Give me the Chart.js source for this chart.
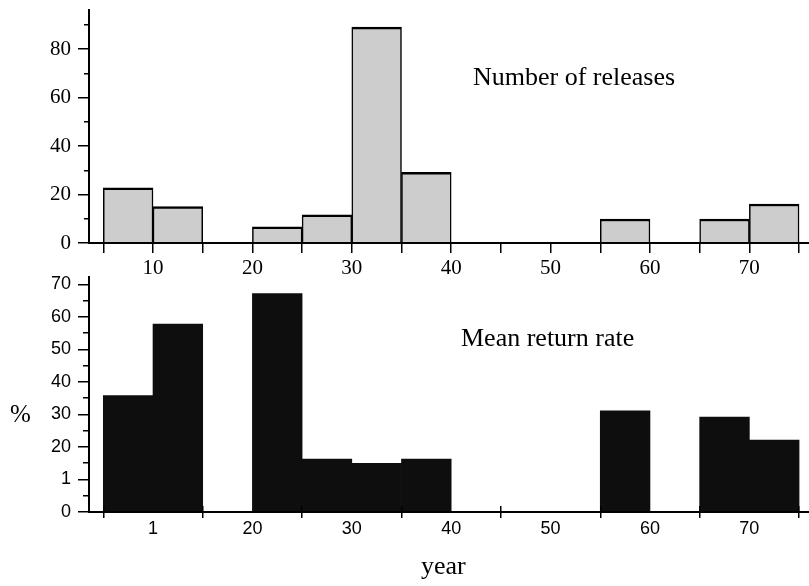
<!DOCTYPE html>
<html><head><meta charset="utf-8">
<script src="https://cdn.jsdelivr.net/npm/chart.js@4/dist/chart.umd.min.js"></script>
<style>
html,body{margin:0;padding:0;background:#fff;}
#wrap{position:relative;width:809px;height:586px;overflow:hidden;background:#fff;}
canvas{position:absolute;left:0;}
#c1{top:0}
#c2{top:250px}
.t{position:absolute;font-family:'Liberation Serif','Times New Roman',serif;color:#000;line-height:1;white-space:nowrap}
</style></head><body>
<div id="wrap">
<canvas id="c1" width="809" height="300"></canvas>
<canvas id="c2" width="809" height="336"></canvas>
<div class="t" style="left:473px;top:64px;font-size:26px">Number of releases</div>
<div class="t" style="left:461px;top:325px;font-size:26px">Mean return rate</div>
<div class="t" style="left:10px;top:401px;font-size:25px">%</div>
<div class="t" style="left:421px;top:553px;font-size:26px">year</div>
</div>
<script>
// bins of 5 years (centres)
const binCenters = [7.5, 12.5, 17.5, 22.5, 27.5, 32.5, 37.5, 42.5, 47.5, 52.5, 57.5, 62.5, 67.5, 72.5];
const releases   = [22.8, 15.0, 0, 6.7, 11.6, 89.1, 29.2, 0, 0, 0, 9.9, 0, 9.9, 16.1];
const returnRate = [35.8, 57.8, 0, 67.2, 16.3, 15.0, 16.3, 0, 0, 0, 31.1, 0, 29.2, 22.1];

const topXTicks  = [5, 10, 15, 20, 25, 30, 35, 40, 45, 50, 55, 60, 65, 70, 75];
const topXLabels = ['', '10', '', '20', '', '30', '', '40', '', '50', '', '60', '', '70', ''];
const topYMajor  = [0, 20, 40, 60, 80];
const topYLabels = ['0', '20', '40', '60', '80'];
const topYMinor  = [10, 30, 50, 70, 90];

const botXTicks     = [5, 15, 25, 35, 45, 55, 65, 75];
const botXLabelVals = [10, 20, 30, 40, 50, 60, 70];
const botXLabels    = ['1', '20', '30', '40', '50', '60', '70'];
const botYMajor     = [0, 10, 20, 30, 40, 50, 60, 70];
const botYLabels    = ['0', '1', '20', '30', '40', '50', '60', '70'];
const botYMinor     = [5, 15, 25, 35, 45, 55, 65];

const X_MIN = 3.56, X_MAX = 76.0;
const TOP_Y_MAX = 96.2, BOT_Y_MAX = 72.3;

function fixedTicks(vals) { return s => { s.ticks = vals.map(v => ({value: v})); }; }
function fixSize(w, h) {
  return s => {
    if (w !== null) s.width = w;
    if (h !== null) s.height = h;
    s.paddingTop = 0; s.paddingBottom = 0; s.paddingLeft = 0; s.paddingRight = 0;
  };
}
const common = {
  responsive: false, animation: false, devicePixelRatio: 1, events: [],
  plugins: {legend: {display: false}, tooltip: {enabled: false}, title: {display: false}}
};
const serif = 'Liberation Serif', sans = 'Liberation Sans';

new Chart(document.getElementById('c1'), {
  type: 'bar',
  data: {datasets: [{
    data: binCenters.map((x, i) => ({x: x, y: releases[i]})),
    backgroundColor: '#cdcdcd', borderColor: '#000',
    borderWidth: {top: 2.5, left: 1.5, right: 1.5, bottom: 0},
    borderSkipped: 'start', barPercentage: 1, categoryPercentage: 1,
    xAxisID: 'x', yAxisID: 'y'
  }]},
  options: Object.assign({}, common, {
    layout: {padding: {top: 10, left: 0, right: 0, bottom: 0}},
    scales: {
      x: {type: 'linear', position: 'bottom', offset: false, min: X_MIN, max: X_MAX, bounds: 'data',
        afterBuildTicks: fixedTicks(topXTicks), afterFit: fixSize(null, 57),
        grid: {display: true, offset: false, drawOnChartArea: false, drawTicks: true, tickLength: 10, color: '#000', lineWidth: 1.5, z: 1},
        border: {display: true, color: '#000', width: 2, z: 1},
        ticks: {autoSkip: false, maxRotation: 0, padding: 3, color: '#000', font: {family: serif, size: 21},
          callback: (v, i) => topXLabels[i]}},
      y: {type: 'linear', position: 'left', weight: 1, min: 0, max: TOP_Y_MAX, bounds: 'data',
        afterBuildTicks: fixedTicks(topYMajor), afterFit: fixSize(89, null),
        grid: {drawOnChartArea: false, tickLength: 11, color: '#000', lineWidth: 1.5, z: 1},
        border: {display: true, color: '#000', width: 2, z: 1},
        ticks: {autoSkip: false, padding: 7, color: '#000', font: {family: serif, size: 21},
          callback: (v, i) => topYLabels[i]}},
      yMinor: {type: 'linear', position: 'left', weight: 0, min: 0, max: TOP_Y_MAX, bounds: 'data',
        afterBuildTicks: fixedTicks(topYMinor), afterFit: fixSize(0, null),
        grid: {drawOnChartArea: false, tickLength: 5, color: '#000', lineWidth: 1.5, z: 1},
        border: {display: false}, ticks: {display: false}}
    }
  })
});

new Chart(document.getElementById('c2'), {
  type: 'bar',
  data: {datasets: [{
    data: binCenters.map((x, i) => ({x: x, y: returnRate[i]})),
    backgroundColor: '#0e0e0e', borderWidth: 0,
    barPercentage: 1, categoryPercentage: 1,
    xAxisID: 'x', yAxisID: 'y'
  }]},
  options: Object.assign({}, common, {
    layout: {padding: {top: 27, left: 0, right: 0, bottom: 0}},
    scales: {
      xUp: {type: 'linear', position: 'bottom', weight: 0, offset: false, min: X_MIN, max: X_MAX, bounds: 'data',
        afterBuildTicks: fixedTicks(botXTicks), afterFit: fixSize(null, 0),
        grid: {display: true, offset: false, drawOnChartArea: false, drawTicks: true, tickLength: -6, color: '#000', lineWidth: 1.5, z: 1},
        border: {display: false}, ticks: {display: false}},
      x: {type: 'linear', position: 'bottom', weight: 1, offset: false, min: X_MIN, max: X_MAX, bounds: 'data',
        afterBuildTicks: fixedTicks(botXTicks), afterFit: fixSize(null, 0),
        grid: {display: true, offset: false, drawOnChartArea: false, drawTicks: true, tickLength: 6, color: '#000', lineWidth: 1.5, z: 1},
        border: {display: false}, ticks: {display: false}},
      xLab: {type: 'linear', position: 'bottom', weight: 2, offset: false, min: X_MIN, max: X_MAX, bounds: 'data',
        afterBuildTicks: fixedTicks(botXLabelVals), afterFit: fixSize(null, 74),
        grid: {display: false, offset: false, drawOnChartArea: false, drawTicks: false},
        border: {display: true, color: '#000', width: 2, z: 1},
        ticks: {autoSkip: false, maxRotation: 0, padding: 6, color: '#000', font: {family: sans, size: 18},
          callback: (v, i) => botXLabels[i]}},
      y: {type: 'linear', position: 'left', weight: 1, min: 0, max: BOT_Y_MAX, bounds: 'data',
        afterBuildTicks: fixedTicks(botYMajor), afterFit: fixSize(89, null),
        grid: {drawOnChartArea: false, tickLength: 11, color: '#000', lineWidth: 1.5, z: 1},
        border: {display: true, color: '#000', width: 2, z: 1},
        ticks: {autoSkip: false, padding: 7, color: '#000', font: {family: sans, size: 18},
          callback: (v, i) => botYLabels[i]}},
      yMinor: {type: 'linear', position: 'left', weight: 0, min: 0, max: BOT_Y_MAX, bounds: 'data',
        afterBuildTicks: fixedTicks(botYMinor), afterFit: fixSize(0, null),
        grid: {drawOnChartArea: false, tickLength: 6, color: '#000', lineWidth: 1.5, z: 1},
        border: {display: false}, ticks: {display: false}}
    }
  })
});
</script>
</body></html>
